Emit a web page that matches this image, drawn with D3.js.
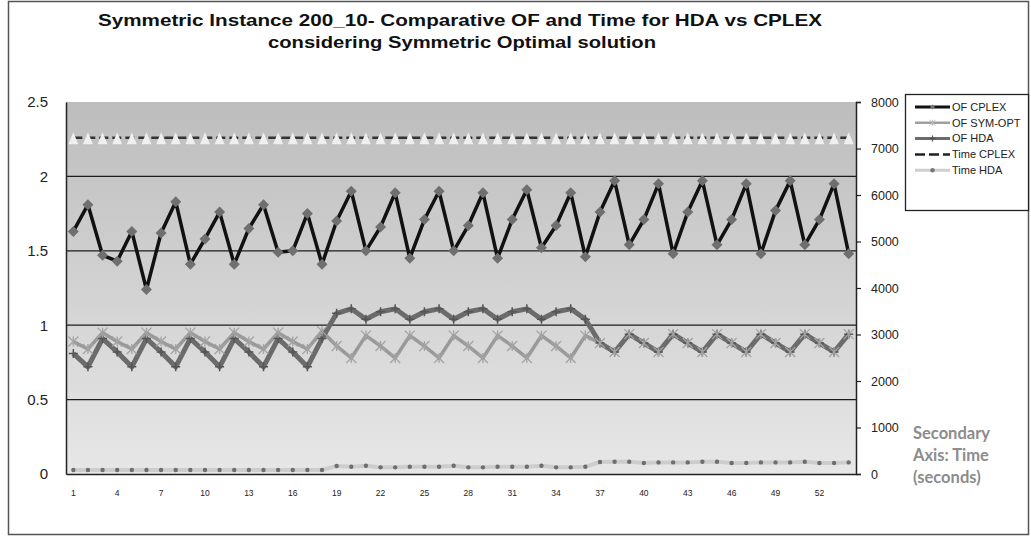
<!DOCTYPE html>
<html><head><meta charset="utf-8">
<script src="https://cdn.jsdelivr.net/npm/d3@7"></script>
<style>body{margin:0;background:#fff} svg{display:block}</style>
</head><body><svg id="c" width="1031" height="536"></svg>
<script>
const categories = [1,2,3,4,5,6,7,8,9,10,11,12,13,14,15,16,17,18,19,20,21,22,23,24,25,26,27,28,29,30,31,32,33,34,35,36,37,38,39,40,41,42,43,44,45,46,47,48,49,50,51,52,53,54];
const xTickLabels = [1,4,7,10,13,16,19,22,25,28,31,34,37,40,43,46,49,52];
const leftTicks = [0,0.5,1,1.5,2,2.5];
const rightTicks = [0,1000,2000,3000,4000,5000,6000,7000,8000];
const ofCplex = [1.63,1.81,1.47,1.43,1.63,1.24,1.62,1.83,1.41,1.58,1.76,1.41,1.65,1.81,1.49,1.50,1.75,1.41,1.70,1.90,1.50,1.66,1.89,1.45,1.71,1.90,1.50,1.67,1.89,1.45,1.71,1.91,1.52,1.67,1.89,1.46,1.76,1.97,1.54,1.71,1.95,1.48,1.76,1.97,1.54,1.71,1.95,1.48,1.77,1.97,1.54,1.71,1.95,1.48];
const ofSymOpt = [0.89,0.84,0.95,0.89,0.84,0.95,0.89,0.84,0.95,0.89,0.84,0.95,0.89,0.84,0.95,0.89,0.84,0.96,0.86,0.78,0.93,0.86,0.78,0.93,0.86,0.78,0.93,0.86,0.78,0.93,0.86,0.78,0.93,0.86,0.78,0.93,0.88,0.82,0.94,0.88,0.82,0.94,0.88,0.82,0.94,0.88,0.82,0.94,0.88,0.82,0.94,0.88,0.82,0.94];
const ofHda = [0.81,0.72,0.91,0.82,0.72,0.91,0.82,0.72,0.91,0.82,0.72,0.91,0.82,0.72,0.91,0.82,0.72,0.91,1.08,1.11,1.04,1.09,1.11,1.04,1.09,1.11,1.04,1.09,1.11,1.04,1.09,1.11,1.04,1.09,1.11,1.04,0.88,0.82,0.94,0.88,0.82,0.94,0.88,0.82,0.94,0.88,0.82,0.94,0.88,0.82,0.94,0.88,0.82,0.94];
const timeCplex = [7230,7230,7230,7230,7230,7230,7230,7230,7230,7230,7230,7230,7230,7230,7230,7230,7230,7230,7230,7230,7230,7230,7230,7230,7230,7230,7230,7230,7230,7230,7230,7230,7230,7230,7230,7230,7230,7230,7230,7230,7230,7230,7230,7230,7230,7230,7230,7230,7230,7230,7230,7230,7230,7230];
const timeHda = [86,86,86,86,86,86,86,86,86,86,86,86,86,86,86,86,86,86,172,157,179,143,143,157,157,157,179,143,143,157,157,157,179,143,143,157,258,265,265,236,250,250,250,265,265,236,236,250,250,250,265,236,236,250];
const legendNames = ["OF CPLEX","OF SYM-OPT","OF HDA","Time CPLEX","Time HDA"];
const titleLines = ["Symmetric Instance 200_10- Comparative  OF and Time for HDA vs CPLEX","considering Symmetric Optimal solution"];
const axisNote = ["Secondary","Axis: Time","(seconds)"];

const svg = d3.select("#c");
const L = 66, R = 856, T = 102, B = 474;

svg.append("rect").attr("x",8.5).attr("y",1.5).attr("width",1020).attr("height",533)
  .attr("fill","#fff").attr("stroke","#555").attr("stroke-width",1.5);

const defs = svg.append("defs");
const grad = defs.append("linearGradient").attr("id","bg").attr("x1",0).attr("y1",0).attr("x2",0).attr("y2",1);
grad.append("stop").attr("offset","0%").attr("stop-color","#bdbdbd");
grad.append("stop").attr("offset","100%").attr("stop-color","#e7e7e7");

const x = d3.scaleBand().domain(categories).range([L,R]).padding(0);
const cx = d => x(d) + x.bandwidth()/2;
const yL = d3.scaleLinear().domain([0,2.5]).range([B,T]);
const yR = d3.scaleLinear().domain([0,8000]).range([B,T]);

svg.append("rect").attr("x",L).attr("y",T).attr("width",R-L).attr("height",B-T).attr("fill","url(#bg)");

// gridlines
svg.append("g").selectAll("line").data(leftTicks.filter(v=>v>0 && v<2.5)).join("line")
  .attr("x1",L).attr("x2",R).attr("y1",d=>yL(d)).attr("y2",d=>yL(d))
  .attr("stroke","#1c1c1c").attr("stroke-width",1.3);

// axes
const axL = svg.append("g").attr("transform",`translate(${L},0)`)
  .call(d3.axisLeft(yL).tickValues(leftTicks).tickSize(0).tickPadding(18).tickFormat(d=>String(d)));
axL.select(".domain").attr("stroke","#222").attr("stroke-width",1.5);
axL.selectAll("text").attr("font-family","Liberation Sans, Arial, sans-serif").attr("font-size",15).attr("fill","#222");

const axR = svg.append("g").attr("transform",`translate(${R},0)`)
  .call(d3.axisRight(yR).tickValues(rightTicks).tickSize(5).tickPadding(10).tickFormat(d=>String(d)));
axR.select(".domain").attr("stroke","#222").attr("stroke-width",1.5);
axR.selectAll("line").attr("stroke","#222").attr("stroke-width",1.2);
axR.selectAll("text").attr("font-family","Liberation Sans, Arial, sans-serif").attr("font-size",12.5).attr("fill","#222");

const axB = svg.append("g").attr("transform",`translate(0,${B})`)
  .call(d3.axisBottom(x).tickValues(xTickLabels).tickSize(0).tickPadding(16));
axB.select(".domain").attr("stroke","#222").attr("stroke-width",1.5);
axB.selectAll("text").attr("font-family","Liberation Sans, Arial, sans-serif").attr("font-size",8.5).attr("fill","#222");

const idx = categories.map((c,i)=>i);
const mk = (arr, ys) => d3.line().x(i=>cx(categories[i])).y(i=>ys(arr[i]));

const diamond = "M0,-5.5L5.5,0L0,5.5L-5.5,0Z";
const tri = "M0,-6.5L5,5.5L-5,5.5Z";
const plus = "M-4.5,0H4.5M0,-4.5V4.5";
const star = "M-5,-5L5,5M-5,5L5,-5M0,-5V5";

// Time CPLEX (secondary) dashed with triangles
svg.append("path").datum(idx).attr("d",mk(timeCplex,yR)).attr("fill","none")
  .attr("stroke","#333").attr("stroke-width",2.5).attr("stroke-dasharray","9,4");
svg.append("g").selectAll("path").data(idx).join("path")
  .attr("transform",i=>`translate(${cx(categories[i])},${yR(timeCplex[i])+1})`)
  .attr("d",tri).attr("fill","#efefef");

// Time HDA
svg.append("path").datum(idx).attr("d",mk(timeHda,yR)).attr("fill","none")
  .attr("stroke","#cdcdcd").attr("stroke-width",4).attr("stroke-linejoin","round");
svg.append("g").selectAll("circle").data(idx).join("circle")
  .attr("cx",i=>cx(categories[i])).attr("cy",i=>yR(timeHda[i])).attr("r",2.2).attr("fill","#6e6e6e");

// OF CPLEX
svg.append("path").datum(idx).attr("d",mk(ofCplex,yL)).attr("fill","none")
  .attr("stroke","#111").attr("stroke-width",3.5).attr("stroke-linejoin","round");
svg.append("g").selectAll("path").data(idx).join("path")
  .attr("transform",i=>`translate(${cx(categories[i])},${yL(ofCplex[i])})`)
  .attr("d",diamond).attr("fill","#6f6f6f");

// OF SYM-OPT
svg.append("path").datum(idx).attr("d",mk(ofSymOpt,yL)).attr("fill","none")
  .attr("stroke","#999").attr("stroke-width",3.5).attr("stroke-linejoin","round");
// OF HDA
svg.append("path").datum(idx).attr("d",mk(ofHda,yL)).attr("fill","none")
  .attr("stroke","#6b6b6b").attr("stroke-width",5).attr("stroke-linejoin","round");
svg.append("g").selectAll("path").data(idx).join("path")
  .attr("transform",i=>`translate(${cx(categories[i])},${yL(ofHda[i])})`)
  .attr("d",plus).attr("stroke","#555").attr("stroke-width",1.5);
svg.append("g").selectAll("path").data(idx).join("path")
  .attr("transform",i=>`translate(${cx(categories[i])},${yL(ofSymOpt[i])})`)
  .attr("d",star).attr("stroke","#a3a3a3").attr("stroke-width",1.3).attr("fill","none");

// Title
const tt = svg.append("g").attr("font-family","Liberation Sans Narrow, Arial Narrow, Liberation Sans, Arial, sans-serif").attr("font-weight","bold")
  .attr("font-size",17).attr("fill","#111").attr("text-anchor","middle").style("white-space","pre");
tt.append("text").attr("x",460).attr("y",26).attr("textLength",724).attr("lengthAdjust","spacingAndGlyphs").text(titleLines[0]);
tt.append("text").attr("x",462).attr("y",48).attr("textLength",388).attr("lengthAdjust","spacingAndGlyphs").text(titleLines[1]);

// Legend
const lg = svg.append("g");
lg.append("rect").attr("x",905.5).attr("y",94.5).attr("width",123).attr("height",116)
  .attr("fill","#fff").attr("stroke","#222").attr("stroke-width",1.3);
const rowY = i => 107 + i*15.8;
const lstyles = [
  {c:"#111",w:3,dash:null,m:"d"},
  {c:"#a0a0a0",w:2.5,dash:null,m:"s"},
  {c:"#6b6b6b",w:3,dash:null,m:"p"},
  {c:"#222",w:2.5,dash:"10,4",m:null},
  {c:"#cfcfcf",w:3,dash:null,m:"o"}];
legendNames.forEach((n,i)=>{
  const s = lstyles[i], y = rowY(i);
  lg.append("line").attr("x1",915).attr("x2",950).attr("y1",y).attr("y2",y)
    .attr("stroke",s.c).attr("stroke-width",s.w).attr("stroke-dasharray",s.dash);
  if(s.m==="d") lg.append("path").attr("transform",`translate(932.5,${y})`).attr("d","M0,-2.5L2.5,0L0,2.5L-2.5,0Z").attr("fill","#777");
  if(s.m==="s") lg.append("path").attr("transform",`translate(932.5,${y})`).attr("d","M-3,-3L3,3M-3,3L3,-3M0,-3V3").attr("stroke","#bbb").attr("stroke-width",1);
  if(s.m==="p") lg.append("path").attr("transform",`translate(932.5,${y})`).attr("d","M-3,0H3M0,-3V3").attr("stroke","#555").attr("stroke-width",1.2);
  if(s.m==="o") lg.append("circle").attr("cx",932.5).attr("cy",y).attr("r",2.2).attr("fill","#777");
  lg.append("text").attr("x",952).attr("y",y).attr("dy","0.35em")
    .attr("font-family","Liberation Sans, Arial, sans-serif").attr("font-size",11).attr("fill","#222").text(n);
});

// Secondary axis note
const an = svg.append("g").attr("font-family","Lato, Open Sans, sans-serif").attr("font-weight","bold")
  .attr("font-size",16.5).attr("fill","#8c8c8c");
axisNote.forEach((t,i)=> an.append("text").attr("x",913).attr("y",439 + i*22).text(t));
</script></body></html>
